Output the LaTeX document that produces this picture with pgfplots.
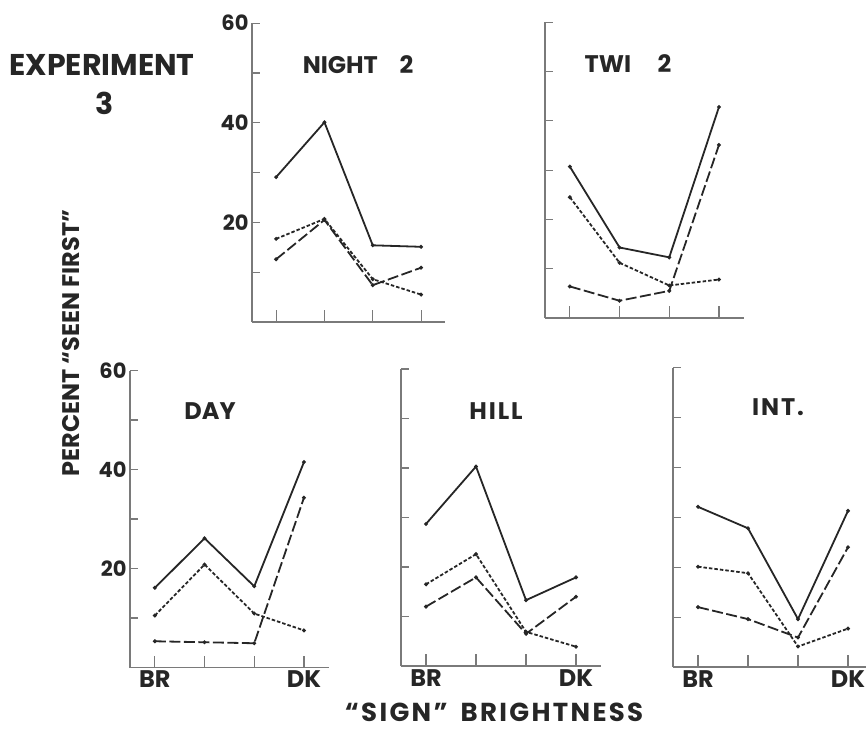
\documentclass[border=0pt]{standalone}
\usepackage{pgfplots}
\pgfplotsset{compat=1.18}
\usepackage{fontspec}
\setmainfont{Poppins}
\definecolor{ink}{HTML}{262626}
\definecolor{axisgray}{HTML}{7A7A7A}

\pgfplotsset{
  panel/.style={
    axis lines=left,
    axis line style={axisgray, line width=1.3pt, -},
    xmin=0.5, xmax=4.5, ymin=0, ymax=60,
    enlargelimits=false, clip=false,
    anchor=south west,
    xtick={1,2,3,4}, ytick={10,20,30,40,50,60},
    tick align=inside, major tick length=8pt,
    xtick style={/pgfplots/major tick length=12pt},
    tick style={axisgray, line width=1.1pt},
    xticklabels={}, yticklabels={},
    /pgf/number format/assume math mode=true,
    yticklabel style={font=\bfseries\fontsize{21}{21}\selectfont, text=ink},
    xticklabel style={font=\bfseries\fontsize{24}{24}\selectfont, text=ink},
    every axis plot/.append style={ink, line width=1.8pt, mark=*, mark size=0.9pt, mark options={solid}},
  },
  s1/.style={solid},
  s2/.style={dash pattern=on 3.5pt off 2pt},
  s3/.style={dash pattern=on 11pt off 3.5pt},
  ylab/.style={yticklabels={{},20,{},40,{},60}},
  xlab/.style={xticklabels={BR,{},{},DK}},
}

\begin{document}
\begin{tikzpicture}[x=1pt,y=1pt]
\useasboundingbox (0pt,0pt) rectangle (867pt,729pt);

% NIGHT 2
\begin{axis}[panel, ylab, at={(252pt,407pt)}, x=48.3pt, y=4.98pt]
\addplot[s1] coordinates {(1,29.1) (2,40.1) (3,15.4) (4,15.1)};
\addplot[s2] coordinates {(1,16.7) (2,20.7) (3,8.6) (4,5.5)};
\addplot[s3] coordinates {(1,12.6) (2,20.5) (3,7.4) (4,10.9)};
\end{axis}

% TWI 2
\begin{axis}[panel, at={(545pt,411pt)}, x=49.7pt, y=4.93pt]
\addplot[s1] coordinates {(1,30.7) (2,14.3) (3,12.3) (4,42.8)};
\addplot[s2] coordinates {(1,24.5) (2,11.2) (3,6.6) (4,7.8)};
\addplot[s3] coordinates {(1,6.4) (2,3.5) (3,5.5) (4,35.1)};
\end{axis}

% DAY
\begin{axis}[panel, ylab, xlab, at={(130pt,61.5pt)}, x=49.7pt, y=4.95pt]
\addplot[s1] coordinates {(1,16.1) (2,26.1) (3,16.4) (4,41.5)};
\addplot[s2] coordinates {(1,10.5) (2,20.8) (3,10.9) (4,7.5)};
\addplot[s3] coordinates {(1,5.3) (2,5.1) (3,4.9) (4,34.3)};
\end{axis}

% HILL
\begin{axis}[panel, xlab, at={(401pt,63pt)}, x=50pt, y=4.95pt]
\addplot[s1] coordinates {(1,28.7) (2,40.3) (3,13.3) (4,17.9)};
\addplot[s2] coordinates {(1,16.5) (2,22.6) (3,6.9) (4,3.9)};
\addplot[s3] coordinates {(1,12.0) (2,17.9) (3,6.5) (4,14.0)};
\end{axis}

% INT.
\begin{axis}[panel, xlab, at={(673pt,62pt)}, x=50pt, y=4.99pt, xmax=4.35]
\addplot[s1] coordinates {(1,32.1) (2,27.8) (3,9.6) (4,31.3)};
\addplot[s2] coordinates {(1,20.1) (2,18.8) (3,4.1) (4,7.7)};
\addplot[s3] coordinates {(1,12.0) (2,9.6) (3,5.9) (4,24.0)};
\end{axis}

\begin{scope}[every node/.style={text=ink, inner sep=0pt}]
\node[font=\bfseries\fontsize{30}{30}\selectfont] at (102pt,664pt) {EXPERIMENT};
\node[font=\bfseries\fontsize{30}{30}\selectfont] at (105pt,626pt) {3};
\node[font=\bfseries\fontsize{24}{24}\selectfont, rotate=90] at (71pt,386pt) {PERCENT ``SEEN FIRST''};
\node[font=\bfseries\fontsize{26}{26}\selectfont] at (494pt,17pt) {\addfontfeature{LetterSpace=9}``SIGN''\hspace{0.5em}BRIGHTNESS};
\node[font=\bfseries\fontsize{24}{24}\selectfont] at (358pt,664pt) {NIGHT\hspace{0.9em}2};
\node[font=\bfseries\fontsize{24}{24}\selectfont] at (628pt,665.5pt) {TWI\hspace{1.1em}2};
\node[font=\bfseries\fontsize{24}{24}\selectfont] at (210pt,318pt) {DAY};
\node[font=\bfseries\fontsize{24}{24}\selectfont] at (496pt,318pt) {\addfontfeature{LetterSpace=8}HILL};
\node[font=\bfseries\fontsize{24}{24}\selectfont] at (778pt,322pt) {\addfontfeature{LetterSpace=8}INT.};
\end{scope}
\end{tikzpicture}
\end{document}
